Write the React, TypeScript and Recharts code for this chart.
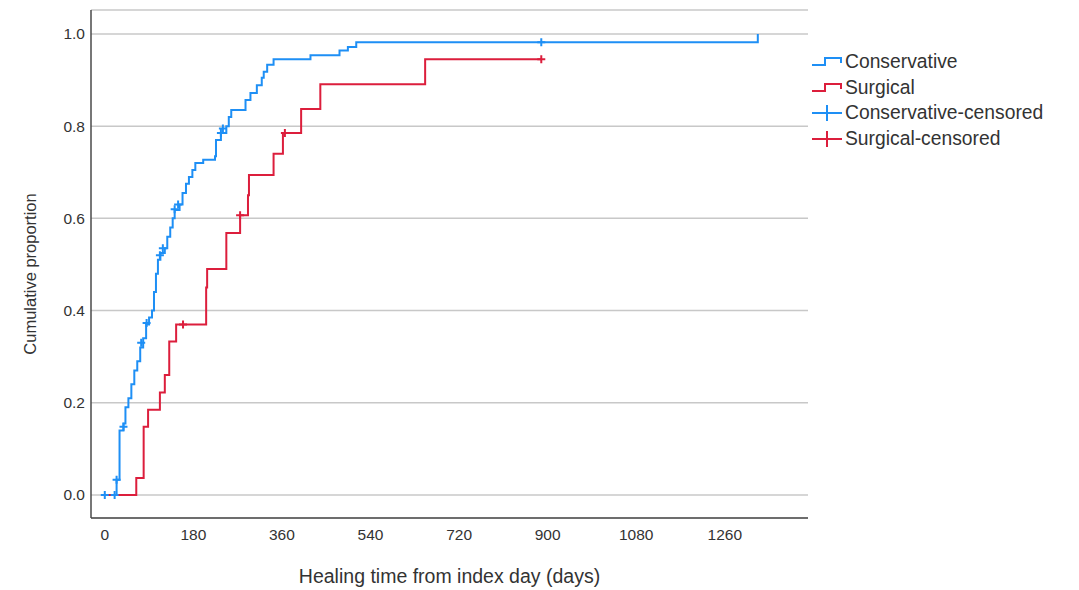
import { ComposedChart, Line, Scatter, XAxis, YAxis, CartesianGrid, Legend, Label } from "recharts"

const FONT = '"Liberation Sans", Arial, sans-serif'
const BLUE = "#1e8ff5"
const RED = "#dc1e3c"
const TEXT = "#333333"

const xTicks = [0, 180, 360, 540, 720, 900, 1080, 1260]
const yTicks = [0, 0.2, 0.4, 0.6, 0.8, 1.0]

// Kaplan-Meier style cumulative healing (day, proportion after event)
const conservativeDays = [
  0, 24, 30, 38, 42, 48, 54, 60, 66, 72, 78, 84, 90, 96, 100, 104, 108, 113, 122, 127, 133, 138,
  142, 152, 158, 165, 171, 178, 184, 200, 224, 226, 236, 247, 252, 257, 286, 296, 309, 319, 323,
  330, 343, 418, 477, 494, 511, 1327,
]
const conservativeProp = [
  0, 0.033, 0.14, 0.155, 0.19, 0.21, 0.24, 0.27, 0.29, 0.32, 0.34, 0.37, 0.385, 0.4, 0.44, 0.48,
  0.51, 0.525, 0.535, 0.56, 0.58, 0.6, 0.618, 0.63, 0.655, 0.675, 0.69, 0.705, 0.72, 0.727, 0.735,
  0.77, 0.785, 0.8, 0.82, 0.835, 0.857, 0.872, 0.889, 0.905, 0.918, 0.933, 0.945, 0.954, 0.964,
  0.972, 0.982, 1.0,
]
const surgicalDays = [0, 64, 79, 88, 112, 122, 131, 145, 206, 208, 247, 275, 291, 293, 343, 362, 399, 438, 651, 887]
const surgicalProp = [
  0, 0.037, 0.148, 0.185, 0.222, 0.26, 0.333, 0.37, 0.45, 0.49, 0.568, 0.607, 0.65, 0.694, 0.74,
  0.785, 0.837, 0.891, 0.945, 0.945,
]

const conservativeCensoredDays = [0, 20, 24, 38, 74, 85, 112, 118, 142, 149, 236, 240, 887]
const conservativeCensoredProp = [0, 0, 0.033, 0.148, 0.33, 0.373, 0.52, 0.535, 0.62, 0.63, 0.785, 0.795, 0.982]
const surgicalCensoredDays = [159, 275, 366, 887]
const surgicalCensoredProp = [0.37, 0.607, 0.785, 0.945]

const toPoints = (days: number[], props: number[]) => days.map((day, i) => ({ day, p: props[i] }))

const conservativeData = toPoints(conservativeDays, conservativeProp)
const surgicalData = toPoints(surgicalDays, surgicalProp)
const conservativeCensored = toPoints(conservativeCensoredDays, conservativeCensoredProp)
const surgicalCensored = toPoints(surgicalCensoredDays, surgicalCensoredProp)

const legendItems = [
  { name: "Conservative", color: BLUE, kind: "step" },
  { name: "Surgical", color: RED, kind: "step" },
  { name: "Conservative-censored", color: BLUE, kind: "cross" },
  { name: "Surgical-censored", color: RED, kind: "cross" },
]

function CensorMark(props: { cx?: number; cy?: number; color: string }) {
  const { cx, cy, color } = props
  if (cx == null || cy == null) return null
  return (
    <path
      d={`M${cx - 4},${cy} H${cx + 4} M${cx},${cy - 4} V${cy + 4}`}
      stroke={color}
      strokeWidth={2}
      fill="none"
    />
  )
}

function KmLegend() {
  return (
    <div style={{ fontFamily: FONT, fontSize: 19.3, color: TEXT }}>
      {legendItems.map((item) => (
        <div key={item.name} style={{ display: "flex", alignItems: "center", height: 25.7 }}>
          <svg width={35} height={20} style={{ flex: "none" }}>
            {item.kind === "step" ? (
              <path d="M2,13 H15 V6 H31 V11" stroke={item.color} strokeWidth={2} fill="none" />
            ) : (
              <path d="M2,10 H32 M17,2 V18" stroke={item.color} strokeWidth={2} fill="none" />
            )}
          </svg>
          <span style={{ whiteSpace: "nowrap" }}>{item.name}</span>
        </div>
      ))}
    </div>
  )
}

export default function App() {
  return (
    <div style={{ position: "absolute", left: 0, top: 0, width: 1079, height: 590, background: "#fff" }}>
      <ComposedChart width={1079} height={590} margin={{ top: 10, right: 271, bottom: 0, left: 0 }}>
        <CartesianGrid vertical={false} stroke="#c8c8c8" strokeWidth={1.5} />
        <XAxis
          type="number"
          dataKey="day"
          domain={[-28, 1429]}
          ticks={xTicks}
          interval={0}
          allowDataOverflow
          height={72}
          tickLine={false}
          tickSize={0}
          tickMargin={11}
          axisLine={{ stroke: "#4a4a4a", strokeWidth: 1.5 }}
          tick={{ fill: TEXT, fontSize: 15.5, fontFamily: FONT }}
        >
          <Label
            value="Healing time from index day (days)"
            position="insideBottom"
            offset={7}
            style={{ fill: TEXT, fontSize: 19.5, fontFamily: FONT }}
          />
        </XAxis>
        <YAxis
          type="number"
          domain={[-0.05, 1.052]}
          ticks={yTicks}
          interval={0}
          allowDataOverflow
          width={91}
          tickLine={false}
          tickSize={0}
          tickMargin={6}
          tickFormatter={(v: number) => v.toFixed(1)}
          axisLine={{ stroke: "#4a4a4a", strokeWidth: 1.5 }}
          tick={{ fill: TEXT, fontSize: 15.5, fontFamily: FONT }}
        >
          <Label
            value="Cumulative proportion"
            angle={-90}
            position="center"
            dx={-15}
            dy={10}
            style={{ fill: TEXT, fontSize: 16.5, fontFamily: FONT }}
          />
        </YAxis>
        <Legend
          layout="vertical"
          align="center"
          verticalAlign="middle"
          wrapperStyle={{ left: 810, top: 49, width: 269 }}
          content={() => <KmLegend />}
        />
        <Line
          data={conservativeData}
          dataKey="p"
          name="Conservative"
          type="stepAfter"
          stroke={BLUE}
          strokeWidth={2}
          dot={false}
          activeDot={false}
          isAnimationActive={false}
        />
        <Line
          data={surgicalData}
          dataKey="p"
          name="Surgical"
          type="stepAfter"
          stroke={RED}
          strokeWidth={2}
          dot={false}
          activeDot={false}
          isAnimationActive={false}
        />
        <Scatter
          data={conservativeCensored}
          dataKey="p"
          name="Conservative-censored"
          isAnimationActive={false}
          shape={(p: { cx?: number; cy?: number }) => <CensorMark cx={p.cx} cy={p.cy} color={BLUE} />}
        />
        <Scatter
          data={surgicalCensored}
          dataKey="p"
          name="Surgical-censored"
          isAnimationActive={false}
          shape={(p: { cx?: number; cy?: number }) => <CensorMark cx={p.cx} cy={p.cy} color={RED} />}
        />
      </ComposedChart>
    </div>
  )
}
